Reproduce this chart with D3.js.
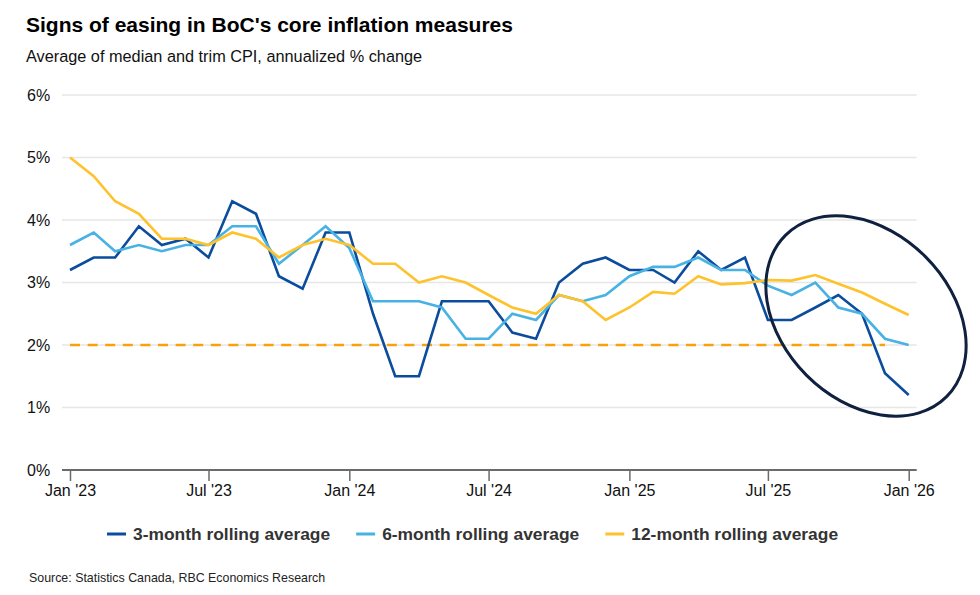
<!DOCTYPE html>
<html>
<head>
<meta charset="utf-8">
<script src="https://cdn.jsdelivr.net/npm/d3@7"></script>
<style>
  body { margin: 0; background: #fff; }
  text { font-family: "Liberation Sans", Arial, sans-serif; }
</style>
</head>
<body>
<div id="chart-container"></div>
<script>
const months = d3.timeMonths(new Date(2023, 0, 1), new Date(2026, 0, 2))

const threeMonth = [3.2, 3.4, 3.4, 3.9, 3.6, 3.7, 3.4, 4.3, 4.1, 3.1, 2.9, 3.8,
  3.8, 2.5, 1.5, 1.5, 2.7, 2.7, 2.7, 2.2, 2.1, 3.0, 3.3, 3.4,
  3.2, 3.2, 3.0, 3.5, 3.2, 3.4, 2.4, 2.4, 2.6, 2.8, 2.5, 1.55, 1.2]

const sixMonth = [3.6, 3.8, 3.5, 3.6, 3.5, 3.6, 3.6, 3.9, 3.9, 3.3, 3.6, 3.9,
  3.55, 2.7, 2.7, 2.7, 2.6, 2.1, 2.1, 2.5, 2.4, 2.8, 2.7, 2.8,
  3.1, 3.25, 3.25, 3.4, 3.2, 3.2, 2.95, 2.8, 3.0, 2.6, 2.5, 2.1, 2.0]

const twelveMonth = [5.0, 4.7, 4.3, 4.1, 3.7, 3.7, 3.6, 3.8, 3.7, 3.4, 3.6, 3.7,
  3.6, 3.3, 3.3, 3.0, 3.1, 3.0, 2.8, 2.6, 2.5, 2.8, 2.7, 2.4,
  2.6, 2.85, 2.82, 3.1, 2.97, 2.99, 3.04, 3.03, 3.12, 2.98, 2.84, 2.66, 2.48]

// BoC 2% target, drawn Jan '23 to Dec '25
const target = [{date: new Date(2023, 0, 1), value: 2}, {date: new Date(2025, 11, 1), value: 2}]

const yTicks = [0, 1, 2, 3, 4, 5, 6]
const xTicks = [new Date(2023, 0, 1), new Date(2023, 6, 1), new Date(2024, 0, 1),
  new Date(2024, 6, 1), new Date(2025, 0, 1), new Date(2025, 6, 1), new Date(2026, 0, 1)]

const series = [
  {name: '3-month rolling average', values: threeMonth, color: '#0b4c9c'},
  {name: '6-month rolling average', values: sixMonth, color: '#47b2e3'},
  {name: '12-month rolling average', values: twelveMonth, color: '#fec22c'}
]

const width = 980
const height = 595

const svg = d3.select('#chart-container')
  .append('svg')
  .attr('width', width)
  .attr('height', height)

const xScale = d3.scaleTime()
  .domain([new Date(2023, 0, 1), new Date(2026, 0, 1)])
  .range([70, 908.7])

const yScale = d3.scaleLinear()
  .domain([0, 6])
  .range([470, 95])

// titles
svg.append('text')
  .attr('x', 26).attr('y', 32)
  .style('font-size', '21px').style('font-weight', 'bold').attr('fill', '#000')
  .text("Signs of easing in BoC's core inflation measures")

svg.append('text')
  .attr('x', 26).attr('y', 62)
  .style('font-size', '16.3px').attr('fill', '#111')
  .text('Average of median and trim CPI, annualized % change')

// grid + y labels
svg.selectAll('.grid')
  .data(yTicks.filter(d => d > 0))
  .enter()
  .append('line')
  .attr('x1', 62).attr('x2', 916.7)
  .attr('y1', d => yScale(d)).attr('y2', d => yScale(d))
  .attr('stroke', '#e6e6e6').attr('stroke-width', 1.5)

svg.selectAll('.ylab')
  .data(yTicks)
  .enter()
  .append('text')
  .attr('x', 27)
  .attr('y', d => yScale(d))
  .attr('dy', '0.36em')
  .style('font-size', '16px').attr('fill', '#111')
  .text(d => d + '%')

// x axis
const xAxis = d3.axisBottom(xScale)
  .tickValues(xTicks)
  .tickSize(11)
  .tickPadding(4)
  .tickFormat(d3.timeFormat("%b '%y"))

const gx = svg.append('g')
  .attr('transform', 'translate(0,470)')
  .call(xAxis)
gx.select('.domain').remove()
gx.append('line')
  .attr('x1', 62).attr('x2', 916.7)
  .attr('stroke', '#6b6b6b').attr('stroke-width', 2)
gx.selectAll('.tick line').attr('stroke', '#6b6b6b').attr('stroke-width', 1.5)
gx.selectAll('.tick text')
  .style('font-size', '16px')
  .style('font-family', '"Liberation Sans", Arial, sans-serif')
  .attr('fill', '#111')

// target line
const line = d3.line()
  .x(d => xScale(d.date))
  .y(d => yScale(d.value))

svg.append('path')
  .datum(target)
  .attr('d', line)
  .attr('fill', 'none')
  .attr('stroke', '#f7a20d')
  .attr('stroke-width', 2.5)
  .attr('stroke-dasharray', '10,7.6')

// series
series.forEach(s => {
  svg.append('path')
    .datum(s.values.map((v, i) => ({date: months[i], value: v})))
    .attr('d', line)
    .attr('fill', 'none')
    .attr('stroke', s.color)
    .attr('stroke-width', 2.6)
    .attr('stroke-linejoin', 'miter')
})

// annotation ellipse
svg.append('ellipse')
  .attr('cx', 866).attr('cy', 316)
  .attr('rx', 114).attr('ry', 84)
  .attr('transform', 'rotate(45,866,316)')
  .attr('fill', 'none')
  .attr('stroke', '#0f213f')
  .attr('stroke-width', 3)

// legend
let lx = 107
series.forEach(s => {
  const g = svg.append('g').attr('transform', `translate(${lx},534)`)
  g.append('line')
    .attr('x1', 0).attr('x2', 19)
    .attr('stroke', s.color).attr('stroke-width', 3)
  const t = g.append('text')
    .attr('x', 26).attr('y', 0).attr('dy', '0.35em')
    .style('font-size', '17.4px').style('font-weight', 'bold').attr('fill', '#333')
    .text(s.name)
  lx += 26 + t.node().getComputedTextLength() + 26
})

svg.append('text')
  .attr('x', 29).attr('y', 582)
  .style('font-size', '12.4px').attr('fill', '#222')
  .text('Source: Statistics Canada, RBC Economics Research')
</script>
</body>
</html>
